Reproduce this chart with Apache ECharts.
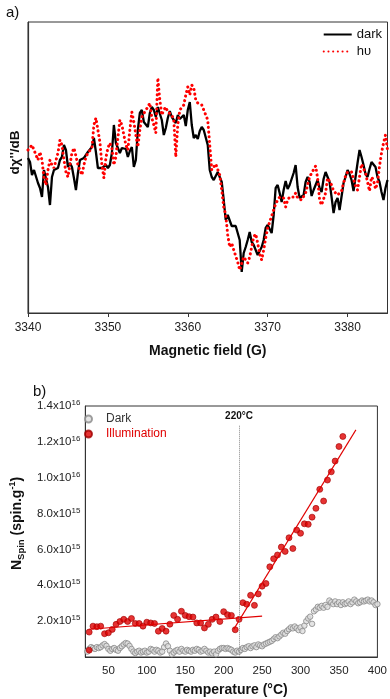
<!DOCTYPE html>
<html>
<head>
<meta charset="utf-8">
<script src="https://cdn.jsdelivr.net/npm/echarts@6/dist/echarts.min.js"></script>
<style>
html,body{margin:0;padding:0;background:#fff;}
#chart{width:390px;height:699px;}
</style>
</head>
<body>
<div id="chart"></div>
<script>
// ---------- panel a) : EPR derivative spectra ----------
const fieldStart = 3340;
const fieldStep = 0.25;
const fieldTicks = [3340, 3350, 3360, 3370, 3380];
// dark spectrum (arbitrary units)
const darkSignal = [
  7,3,-10,-5,-3,-18,-23,-32,-5,-3,
  -22,-40,-12,-5,-5,-3,5,8,20,15,
  -2,2,-2,-13,-25,-8,5,7,7,8,
  13,12,18,27,13,-3,-5,-3,-5,0,
  -3,0,12,40,22,17,12,
  17,15,16,8,14,18,-2,5,35,52,
  55,43,43,38,52,58,55,48,58,60,
  45,30,37,47,54,48,46,42,50,46,
  48,50,39,55,63,40,27,30,26,34,
  38,35,33,20,-5,
  -12,-15,-13,-7,-9,-17,-35,-55,-50,-50,
  -61,-60,-61,-63,-75,-107,-88,-82,-75,-67,
  -77,-80,-81,-90,-90,-82,-75,-63,-60,-59,
  -68,-50,-23,-20,-28,-37,-25,-16,-24,-20,
  -18,-8,0,-22,-33,
  -32,-30,-17,-12,-17,-31,-25,-24,-15,-23,
  -27,-14,-7,-12,-17,-32,-48,-37,-33,-45,
  -43,-18,-12,-5,-9,-15,-26,-12,2,15,
  8,0,-9,-12,-4,3,3,-2,-12,-17,
  -27,-35,-23,-15
];
// illuminated (hυ) spectrum (arbitrary units)
const lightSignal = [
  15,13,20,18,10,5,13,5,-13,-20,
  -5,5,0,-3,-2,12,25,20,5,-7,
  -12,0,12,17,9,0,-5,-10,0,8,
  12,12,17,40,47,35,23,0,-13,7,
  17,22,17,0,8,27,45,40,30,20,
  15,35,53,43,30,18,35,48,48,55,
  58,62,47,40,32,87,65,50,55,58,
  53,51,50,45,8,40,55,57,60,70,
  78,70,80,77,65,62,62,60,55,53,
  45,20,-5,-6,1,3,-10,-25,-42,-50,
  -70,-82,-78,-85,-86,-97,-105,-107,-92,-92,
  -98,-92,-82,-72,-69,-78,-89,-95,-85,-73,
  -63,-57,-55,-45,-39,-35,-32,-32,-33,-42,
  -35,-32,-33,-32,-28,-33,-32,
  -35,-35,-28,-20,-12,-8,-6,-1,-13,-35,
  -40,-38,-28,-13,-12,-20,-26,-28,-30,-30,
  -26,-18,-11,-7,-8,-7,-14,-21,-25,-12,
  1,0,-8,-17,-26,-12,-15,-24,-18,-1,
  12,22,30,15
];

// ---------- panel b) : spin number vs temperature ----------
const darkTempStart = 22.5;
const darkTempStep = 2.5;
// N_spin in units of 1e15 spin/g
const darkSpins = [
  0.30,0.45,0.55,0.50,0.45,0.55,0.50,0.55,0.65,0.72,
  0.62,0.45,0.35,0.45,0.50,0.40,0.35,0.50,0.60,0.70,
  0.78,0.75,0.62,0.45,0.30,0.22,0.30,0.35,0.25,0.30,
  0.35,0.25,0.30,0.45,0.40,0.30,0.40,0.35,0.25,0.30,
  0.55,0.75,0.60,0.35,0.15,0.25,0.35,0.40,0.30,0.45,
  0.35,0.30,0.40,0.35,0.30,0.40,0.35,0.45,0.40,0.30,
  0.35,0.45,0.35,0.25,0.30,0.20,0.30,0.15,0.35,0.45,
  0.50,0.50,0.45,0.50,0.45,0.40,0.30,0.25,0.35,0.30,
  0.40,0.50,0.45,0.55,0.60,0.50,0.60,0.65,0.55,0.70,
  0.65,0.60,0.70,0.75,0.80,0.85,0.90,1.00,1.10,1.05,
  1.15,1.25,1.35,1.30,1.45,1.55,1.65,1.60,1.70,1.60,
  1.50,1.65,1.45,1.75,2.00,2.15,2.25,1.85,2.55,2.65,
  2.80,2.75,2.85,2.75,2.90,2.80,3.15,3.05,2.95,3.10,
  2.95,3.05,2.90,3.05,2.95,3.00,3.10,2.95,3.05,3.20,
  3.10,3.00,3.05,3.15,3.10,3.15,3.20,3.10,3.15,3.05,
  2.90,2.95
];
const illumTempStart = 25;
const illumTempStep = 5;
const illumSpins = [
  1.39,1.72,1.69,1.72,1.30,1.35,1.54,1.82,1.98,2.10,
  1.98,2.15,1.87,1.87,1.72,1.94,1.90,1.87,1.44,1.59,
  1.44,1.83,2.32,2.10,2.55,2.32,2.25,2.23,1.90,1.90,
  1.62,1.82,2.10,2.23,1.98,2.53,2.36,2.32,1.52,2.10,
  3.03,2.94,3.44,2.88,3.52,3.95,4.10,5.03,5.48,5.69,
  6.13,5.89,6.65,6.05,7.08,6.90,7.43,7.40,7.80,8.29,
  9.35,8.70,9.87,10.33,10.93,11.74,12.30
];
const illumExtra = [25, 0.38];
const fitLow = [[25, 1.55], [250, 2.28]];
const fitHigh = [[213, 1.54], [372, 12.67]];
const onsetTemp = 220;
const onsetTop = 12.9;
const tempTicks = [50, 100, 150, 200, 250, 300, 350, 400];
const spinTicks = [2, 4, 6, 8, 10, 12, 14];
const spinMantissas = ['2.0', '4.0', '6.0', '8.0', '1.0', '1.2', '1.4'];
const spinExponents = ['15', '15', '15', '15', '16', '16', '16'];

// ---------- build series data ----------
const darkSpec = darkSignal.map((v, i) => [fieldStart + i * fieldStep, v]);
const lightSpec = lightSignal.map((v, i) => [fieldStart + i * fieldStep, v]);
const darkPts = darkSpins.map((v, i) => [darkTempStart + i * darkTempStep, v]);
const illumPts = illumSpins.map((v, i) => [illumTempStart + i * illumTempStep, v]);
illumPts.push(illumExtra);

const FONT = 'Liberation Sans, Arial, sans-serif';
const chart = echarts.init(document.getElementById('chart'), null, {renderer: 'canvas'});

const option = {
  animation: false,
  backgroundColor: '#fff',
  textStyle: {fontFamily: FONT},
  title: [
    {text: 'a)', left: 1, top: 0, textStyle: {fontSize: 15, fontWeight: 'normal', color: '#111', fontFamily: FONT}},
    {text: 'b)', left: 28, top: 379, textStyle: {fontSize: 15, fontWeight: 'normal', color: '#111', fontFamily: FONT}}
  ],
  grid: [
    {left: 26.5, right: 2.5, top: 22, height: 291, show: true, borderColor: '#333', borderWidth: 1, containLabel: false},
    {left: 67.7, right: 10, top: 406, height: 251, show: true, borderColor: '#333', borderWidth: 1, containLabel: false}
  ],
  legend: [
    {
      orient: 'vertical', right: 3, top: 23, itemWidth: 28, itemHeight: 12, itemGap: 4,
      itemStyle: {opacity: 0},
      textStyle: {fontSize: 13, color: '#111', fontFamily: FONT},
      data: ['dark', 'hυ']
    },
    {
      orient: 'vertical', left: 79, top: 408, itemWidth: 7, itemHeight: 7, itemGap: 3,
      textStyle: {fontSize: 12, fontFamily: FONT, padding: [0, 0, 0, 9]},
      data: [
        {name: 'Dark', icon: 'circle', textStyle: {color: '#333'}},
        {name: 'Illumination', icon: 'circle', textStyle: {color: '#e00000'}}
      ]
    }
  ],
  xAxis: [
    {
      gridIndex: 0, type: 'value', min: 3340, max: 3385,
      axisLine: {show: true, onZero: false, lineStyle: {color: '#333', width: 1.2}},
      axisTick: {show: true, length: 4, customValues: fieldTicks, lineStyle: {color: '#333'}},
      axisLabel: {customValues: fieldTicks, fontSize: 12, color: '#222', margin: 9, fontFamily: FONT,
        formatter: function (v) { return String(v); }},
      splitLine: {show: false},
      name: 'Magnetic field (G)', nameLocation: 'middle', nameGap: 31,
      nameTextStyle: {fontSize: 14, fontWeight: 'bold', color: '#111', fontFamily: FONT}
    },
    {
      gridIndex: 1, type: 'value', min: 20, max: 400,
      axisLine: {show: true, onZero: false, lineStyle: {color: '#333', width: 1}},
      axisTick: {show: false},
      axisLabel: {customValues: tempTicks, fontSize: 11.5, color: '#222', margin: 8, fontFamily: FONT,
        formatter: function (v) { return String(v); }},
      splitLine: {show: false},
      name: 'Temperature (°C)', nameLocation: 'middle', nameGap: 26,
      nameTextStyle: {fontSize: 14, fontWeight: 'bold', color: '#111', fontFamily: FONT}
    }
  ],
  yAxis: [
    {
      gridIndex: 0, type: 'value', min: -148, max: 143,
      axisLine: {show: true, onZero: false, lineStyle: {color: '#333', width: 1.2}},
      axisTick: {show: false}, axisLabel: {show: false}, splitLine: {show: false},
      name: "dχ''/dB", nameLocation: 'middle', nameGap: 6,
      nameTextStyle: {fontSize: 13.5, fontWeight: 'bold', color: '#111', fontFamily: FONT, padding: [0, 0, 0, 30]}
    },
    {
      gridIndex: 1, type: 'value', min: 0, max: 14,
      axisLine: {show: true, onZero: false, lineStyle: {color: '#333', width: 1}},
      axisTick: {show: false},
      splitLine: {show: false},
      axisLabel: {
        customValues: spinTicks, margin: 5,
        formatter: function (v) {
          const k = spinTicks.indexOf(v);
          if (k < 0) return '';
          return '{b|' + spinMantissas[k] + 'x10}{s|' + spinExponents[k] + '}';
        },
        rich: {
          b: {fontSize: 11.5, color: '#222', fontFamily: FONT, lineHeight: 14},
          s: {fontSize: 8, color: '#222', fontFamily: FONT, verticalAlign: 'top', lineHeight: 14}
        }
      },
      name: '{n|N}{sub|Spin}{n| (spin.g}{sup|-1}{n|)}', nameLocation: 'middle', nameGap: 50,
      nameTextStyle: {
        padding: [0, 0, 0, 16],
        rich: {
          n: {fontSize: 14, fontWeight: 'bold', color: '#111', fontFamily: FONT, lineHeight: 18},
          sub: {fontSize: 9.5, fontWeight: 'bold', color: '#111', fontFamily: FONT, verticalAlign: 'bottom', lineHeight: 18},
          sup: {fontSize: 9, fontWeight: 'bold', color: '#111', fontFamily: FONT, verticalAlign: 'top', lineHeight: 18}
        }
      }
    }
  ],
  series: [
    {
      name: 'dark', type: 'line', xAxisIndex: 0, yAxisIndex: 0, data: darkSpec,
      showSymbol: false, symbol: 'none', color: '#000',
      lineStyle: {color: '#000', width: 2.3}, z: 2
    },
    {
      name: 'hυ', type: 'line', xAxisIndex: 0, yAxisIndex: 0, data: lightSpec,
      showSymbol: false, symbol: 'none', color: '#f00',
      lineStyle: {color: '#f00', width: 3, type: [0.1, 4.6], cap: 'round'}, z: 3
    },
    {
      name: 'Dark', type: 'scatter', xAxisIndex: 1, yAxisIndex: 1, data: darkPts,
      symbol: 'circle', symbolSize: 5.5, color: '#d8d8d8',
      itemStyle: {color: '#dddddd', borderColor: '#888888', borderWidth: 1}, z: 2
    },
    {
      name: 'Illumination', type: 'scatter', xAxisIndex: 1, yAxisIndex: 1, data: illumPts,
      symbol: 'circle', symbolSize: 6, color: '#e00000',
      itemStyle: {color: '#e00000', borderColor: '#a00000', borderWidth: 0.8}, z: 3
    },
    {
      name: 'fitLow', type: 'line', xAxisIndex: 1, yAxisIndex: 1, data: fitLow,
      showSymbol: false, symbol: 'none', lineStyle: {color: '#e00000', width: 1.1}, z: 4, silent: true
    },
    {
      name: 'fitHigh', type: 'line', xAxisIndex: 1, yAxisIndex: 1, data: fitHigh,
      showSymbol: false, symbol: 'none', lineStyle: {color: '#e00000', width: 1.1}, z: 4, silent: true,
      markLine: {
        symbol: 'none', silent: true,
        lineStyle: {color: '#888', type: 'dotted', width: 1},
        label: {show: true, position: 'start', formatter: onsetTemp + '°C', fontSize: 10, fontWeight: 'bold', color: '#111', fontFamily: FONT, distance: 4},
        data: [[{coord: [onsetTemp, onsetTop]}, {coord: [onsetTemp, 0]}]]
      }
    }
  ]
};
chart.setOption(option);
</script>
</body>
</html>
